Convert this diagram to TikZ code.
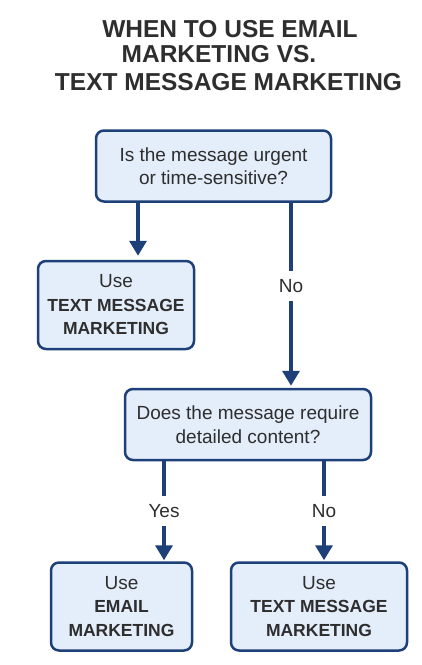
\documentclass[tikz,border=0pt]{standalone}
\usepackage{fontspec}
\setmainfont{Liberation Sans}
\usetikzlibrary{arrows.meta,positioning}
\definecolor{flowline}{RGB}{30,64,121}
\definecolor{flowfill}{RGB}{228,238,251}
\definecolor{inktext}{RGB}{46,46,46}
\newcommand{\mkt}[1]{{\fontsize{17.5}{23}\selectfont\bfseries #1}}

\begin{document}
\begin{tikzpicture}[
    x=1pt, y=-1pt,
    box/.style={rectangle, rounded corners=8pt, draw=flowline, line width=2.5pt, fill=flowfill,
               align=center, text=inktext, font=\fontsize{19}{23.5}\selectfont, inner sep=2pt},
    qbox/.style={box, minimum height=71pt},
    ansbox/.style={box, minimum height=88pt},
    arr/.style={-{Triangle[length=15pt,width=17pt]}, line width=3.5pt, flowline},
    lbl/.style={fill=white, text=inktext, font=\fontsize{19}{23}\selectfont, inner sep=0pt, minimum height=30pt},
    ttl/.style={anchor=base, text=inktext, font=\fontsize{24.5}{28}\selectfont\bfseries}
]
\useasboundingbox[fill=white] (0,0) rectangle (421,665);

% title
\node[ttl] (title1) at (230,37) {WHEN TO USE EMAIL};
\node[ttl] (title2) at (219,62) {MARKETING VS.};
\node[ttl] (title3) at (228.5,90) {TEXT MESSAGE MARKETING};

% boxes
\node[qbox, minimum width=235pt] (urgent) at (213.5,166) {Is the message urgent\\or time-sensitive?};
\node[ansbox, minimum width=156pt, below=57pt of urgent, xshift=-97.5pt] (smsA) {Use\\\mkt{TEXT MESSAGE}\\\mkt{MARKETING}};
\node[qbox, minimum width=246pt, below=185pt of urgent, xshift=34.5pt] (detail) {Does the message require\\detailed content?};
\node[ansbox, minimum width=141pt, below=100pt of detail, xshift=-126.5pt] (email) {Use\\\mkt{EMAIL}\\\mkt{MARKETING}};
\node[ansbox, minimum width=176pt, below=100pt of detail, xshift=71pt] (smsB) {Use\\\mkt{TEXT MESSAGE}\\\mkt{MARKETING}};

% arrows
\draw[arr, shorten >=4pt] ([xshift=-75.5pt]urgent.south) -- ([xshift=-75.5pt]urgent.south |- smsA.north);
\draw[arr, shorten >=2pt] ([xshift=77.5pt]urgent.south) -- ([xshift=77.5pt]urgent.south |- detail.north)
    node[lbl, pos=0.45] (noA) {No};
\draw[arr, shorten >=1pt] ([xshift=-84pt]detail.south) -- ([xshift=-84pt]detail.south |- email.north)
    node[lbl, midway] (yes) {Yes};
\draw[arr, shorten >=1pt] ([xshift=76pt]detail.south) -- ([xshift=76pt]detail.south |- smsB.north)
    node[lbl, midway] (noB) {No};
\end{tikzpicture}
\end{document}
